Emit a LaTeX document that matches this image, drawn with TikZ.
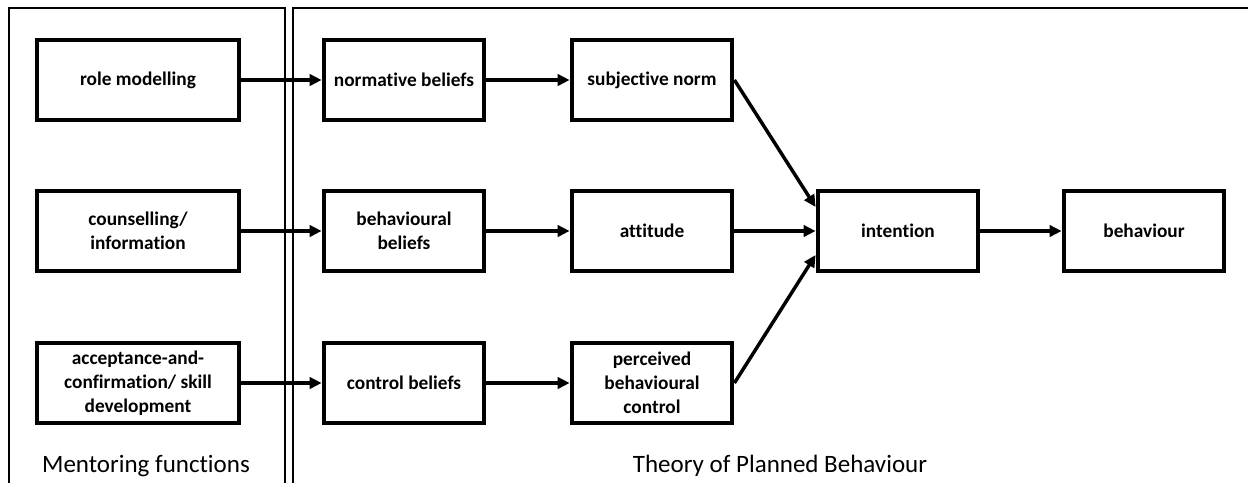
\documentclass[tikz,border=0pt]{standalone}
\usepackage{fontspec}
\setmainfont{Carlito}[Ligatures=NoCommon]
\usetikzlibrary{arrows.meta}
\begin{document}
\begin{tikzpicture}[x=0.75pt,y=-0.75pt,line join=miter,>={Triangle[length=9pt,width=8.5pt]}]
	\tikzset{box/.style={draw,line width=3.6pt,align=center,font=\fontsize{14.5}{18}\selectfont\bfseries,
			minimum width=120pt,minimum height=60pt,inner sep=2pt},
		widebox/.style={box,minimum width=151.5pt},
		link/.style={->,line width=2.6pt},
		frame/.style={line width=1pt},
		title/.style={font=\fontsize{18.75}{22}\selectfont}
	}
	\useasboundingbox (0,0) rectangle (1248,482);
	\clip (0,0) rectangle (1248,482);
	% panels
	\draw[frame] (9,500)--(9,8)--(285,8)--(285,500);
	\draw[frame] (293,500)--(293,8)--(1260,8);
	\node[title] (mf) at (146,466) {Mentoring functions};
	\node[title] (tpb) at (780,466) {Theory of Planned Behaviour};
	% mentoring functions
	\node[widebox] (role) at (138,80) {role modelling};
	\node[widebox] (couns) at (138,231) {counselling/\\information};
	\node[widebox] (accept) at (138,383) {acceptance-and-\\confirmation/ skill\\development};
	% beliefs
	\node[box] (norm) at (404,80) {normative beliefs};
	\node[box] (behb) at (404,231) {behavioural\\beliefs};
	\node[box] (contr) at (404,383) {control beliefs};
	% determinants
	\node[box] (subj) at (652,80) {subjective norm};
	\node[box] (att) at (652,231) {attitude};
	\node[box] (pbc) at (652,383) {perceived\\behavioural\\control};
	\node[box] (int) at (898,231) {intention};
	\node[box] (beh) at (1144,231) {behaviour};
	% arrows
	\draw[link] (role.east)--(norm.west);
	\draw[link] (couns.east)--(behb.west);
	\draw[link] (accept.east)--(contr.west);
	\draw[link] (norm.east)--(subj.west);
	\draw[link] (behb.east)--(att.west);
	\draw[link] (contr.east)--(pbc.west);
	\draw[link] (subj.east)--([yshift=18pt]int.west);
	\draw[link] (att.east)--(int.west);
	\draw[link] (pbc.east)--([yshift=-18pt]int.west);
	\draw[link] (int.east)--(beh.west);
\end{tikzpicture}
\end{document}
